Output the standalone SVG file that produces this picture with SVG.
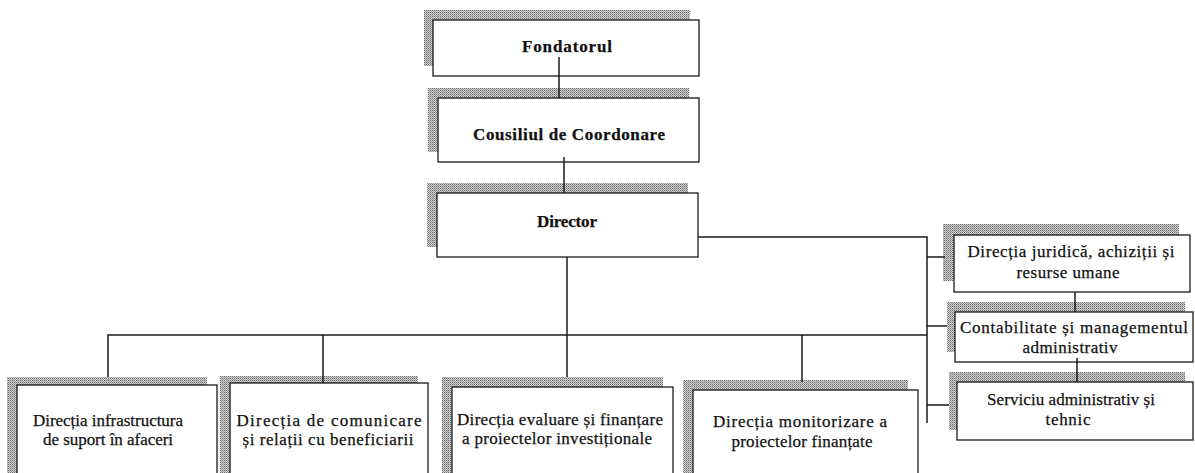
<svg xmlns="http://www.w3.org/2000/svg" width="1195" height="473" viewBox="0 0 1195 473">
<style>
.box{fill:#fff;stroke:#1a1a1a;stroke-width:1.3}
.sh{fill:url(#dither)}
.c{fill:none;stroke:#1a1a1a;stroke-width:1.5}
</style>
<defs>
<pattern id="dither" width="2" height="2" patternUnits="userSpaceOnUse">
<rect width="2" height="2" fill="#cfcfcf"/>
<rect width="1" height="1" fill="#6e6e6e"/>
<rect x="1" y="1" width="1" height="1" fill="#9a9a9a"/>
</pattern>
</defs>
<rect width="1195" height="473" fill="#fff"/>
<g font-family="'Liberation Serif', 'Times New Roman', serif" font-size="17" fill="#111" text-anchor="middle" stroke="#111" stroke-width="0.25">
<g id="fondatorul">
<rect class="sh" x="424" y="10" width="266" height="56" stroke="none"/>
<rect class="box" x="433" y="20" width="266" height="56"/>
<text x="567" y="52" font-weight="bold" textLength="90" lengthAdjust="spacing">Fondatorul</text>
</g>
<g id="consiliul">
<rect class="sh" x="428" y="88" width="261" height="64" stroke="none"/>
<rect class="box" x="438" y="98" width="261" height="64"/>
<text x="569" y="140" font-weight="bold" textLength="192" lengthAdjust="spacing">Cousiliul de Coordonare</text>
</g>
<g id="director">
<rect class="sh" x="427" y="183" width="261" height="64" stroke="none"/>
<rect class="box" x="437" y="193" width="261" height="64"/>
<text x="567" y="227" font-weight="bold" textLength="60" lengthAdjust="spacing">Director</text>
</g>
<g id="juridica">
<rect class="sh" x="943" y="224" width="236" height="57" stroke="none"/>
<rect class="box" x="954" y="235" width="236" height="57"/>
<text x="1071" y="257" textLength="207" lengthAdjust="spacing">Direcția juridică, achiziții  și</text>
<text x="1068" y="278" textLength="103" lengthAdjust="spacing">resurse umane</text>
</g>
<g id="contabilitate">
<rect class="sh" x="947" y="302" width="238" height="50" stroke="none"/>
<rect class="box" x="955" y="312" width="238" height="50"/>
<text x="1074" y="333" textLength="228" lengthAdjust="spacing">Contabilitate și managementul</text>
<text x="1070" y="353" textLength="95" lengthAdjust="spacing">administrativ</text>
</g>
<g id="serviciu">
<rect class="sh" x="949" y="372" width="236" height="58" stroke="none"/>
<rect class="box" x="957" y="382" width="236" height="58"/>
<text x="1071" y="405" textLength="168" lengthAdjust="spacing">Serviciu administrativ și</text>
<text x="1068" y="425" textLength="45" lengthAdjust="spacing">tehnic</text>
</g>
<g id="infrastructura">
<rect class="sh" x="7" y="377" width="200" height="100" stroke="none"/>
<rect class="box" x="17" y="385" width="200" height="100"/>
<text x="108" y="426" textLength="150" lengthAdjust="spacing">Direcția infrastructura</text>
<text x="108" y="445" textLength="130" lengthAdjust="spacing">de suport în afaceri</text>
</g>
<g id="comunicare">
<rect class="sh" x="220" y="376" width="198" height="100" stroke="none"/>
<rect class="box" x="230" y="383" width="198" height="100"/>
<text x="329" y="426" textLength="185" lengthAdjust="spacing">Direcția de comunicare</text>
<text x="328" y="445" textLength="171" lengthAdjust="spacing">și relații cu beneficiarii</text>
</g>
<g id="evaluare">
<rect class="sh" x="442" y="377" width="221" height="100" stroke="none"/>
<rect class="box" x="452" y="387" width="221" height="100"/>
<text x="560" y="425" textLength="206" lengthAdjust="spacing">Direcția evaluare și finanțare</text>
<text x="557" y="444" textLength="190" lengthAdjust="spacing">a proiectelor investiționale</text>
</g>
<g id="monitorizare">
<rect class="sh" x="683" y="380" width="225" height="100" stroke="none"/>
<rect class="box" x="693" y="390" width="225" height="100"/>
<text x="800" y="427" textLength="174" lengthAdjust="spacing">Direcția monitorizare a</text>
<text x="802" y="447" textLength="141" lengthAdjust="spacing">proiectelor finanțate</text>
</g>
</g>
<g id="connectors">
<path class="c" d="M559 57V98"/>
<path class="c" d="M564 157V193"/>
<path class="c" d="M567 257V377"/>
<path class="c" d="M108 377V335H927"/>
<path class="c" d="M323 335V383"/>
<path class="c" d="M802 335V382"/>
<path class="c" d="M698 237H927V423"/>
<path class="c" d="M927 257H945"/>
<path class="c" d="M927 326H947"/>
<path class="c" d="M927 405H949"/>
<path class="c" d="M1075 292V312"/>
<path class="c" d="M1077 358V382"/>
</g>
</svg>
